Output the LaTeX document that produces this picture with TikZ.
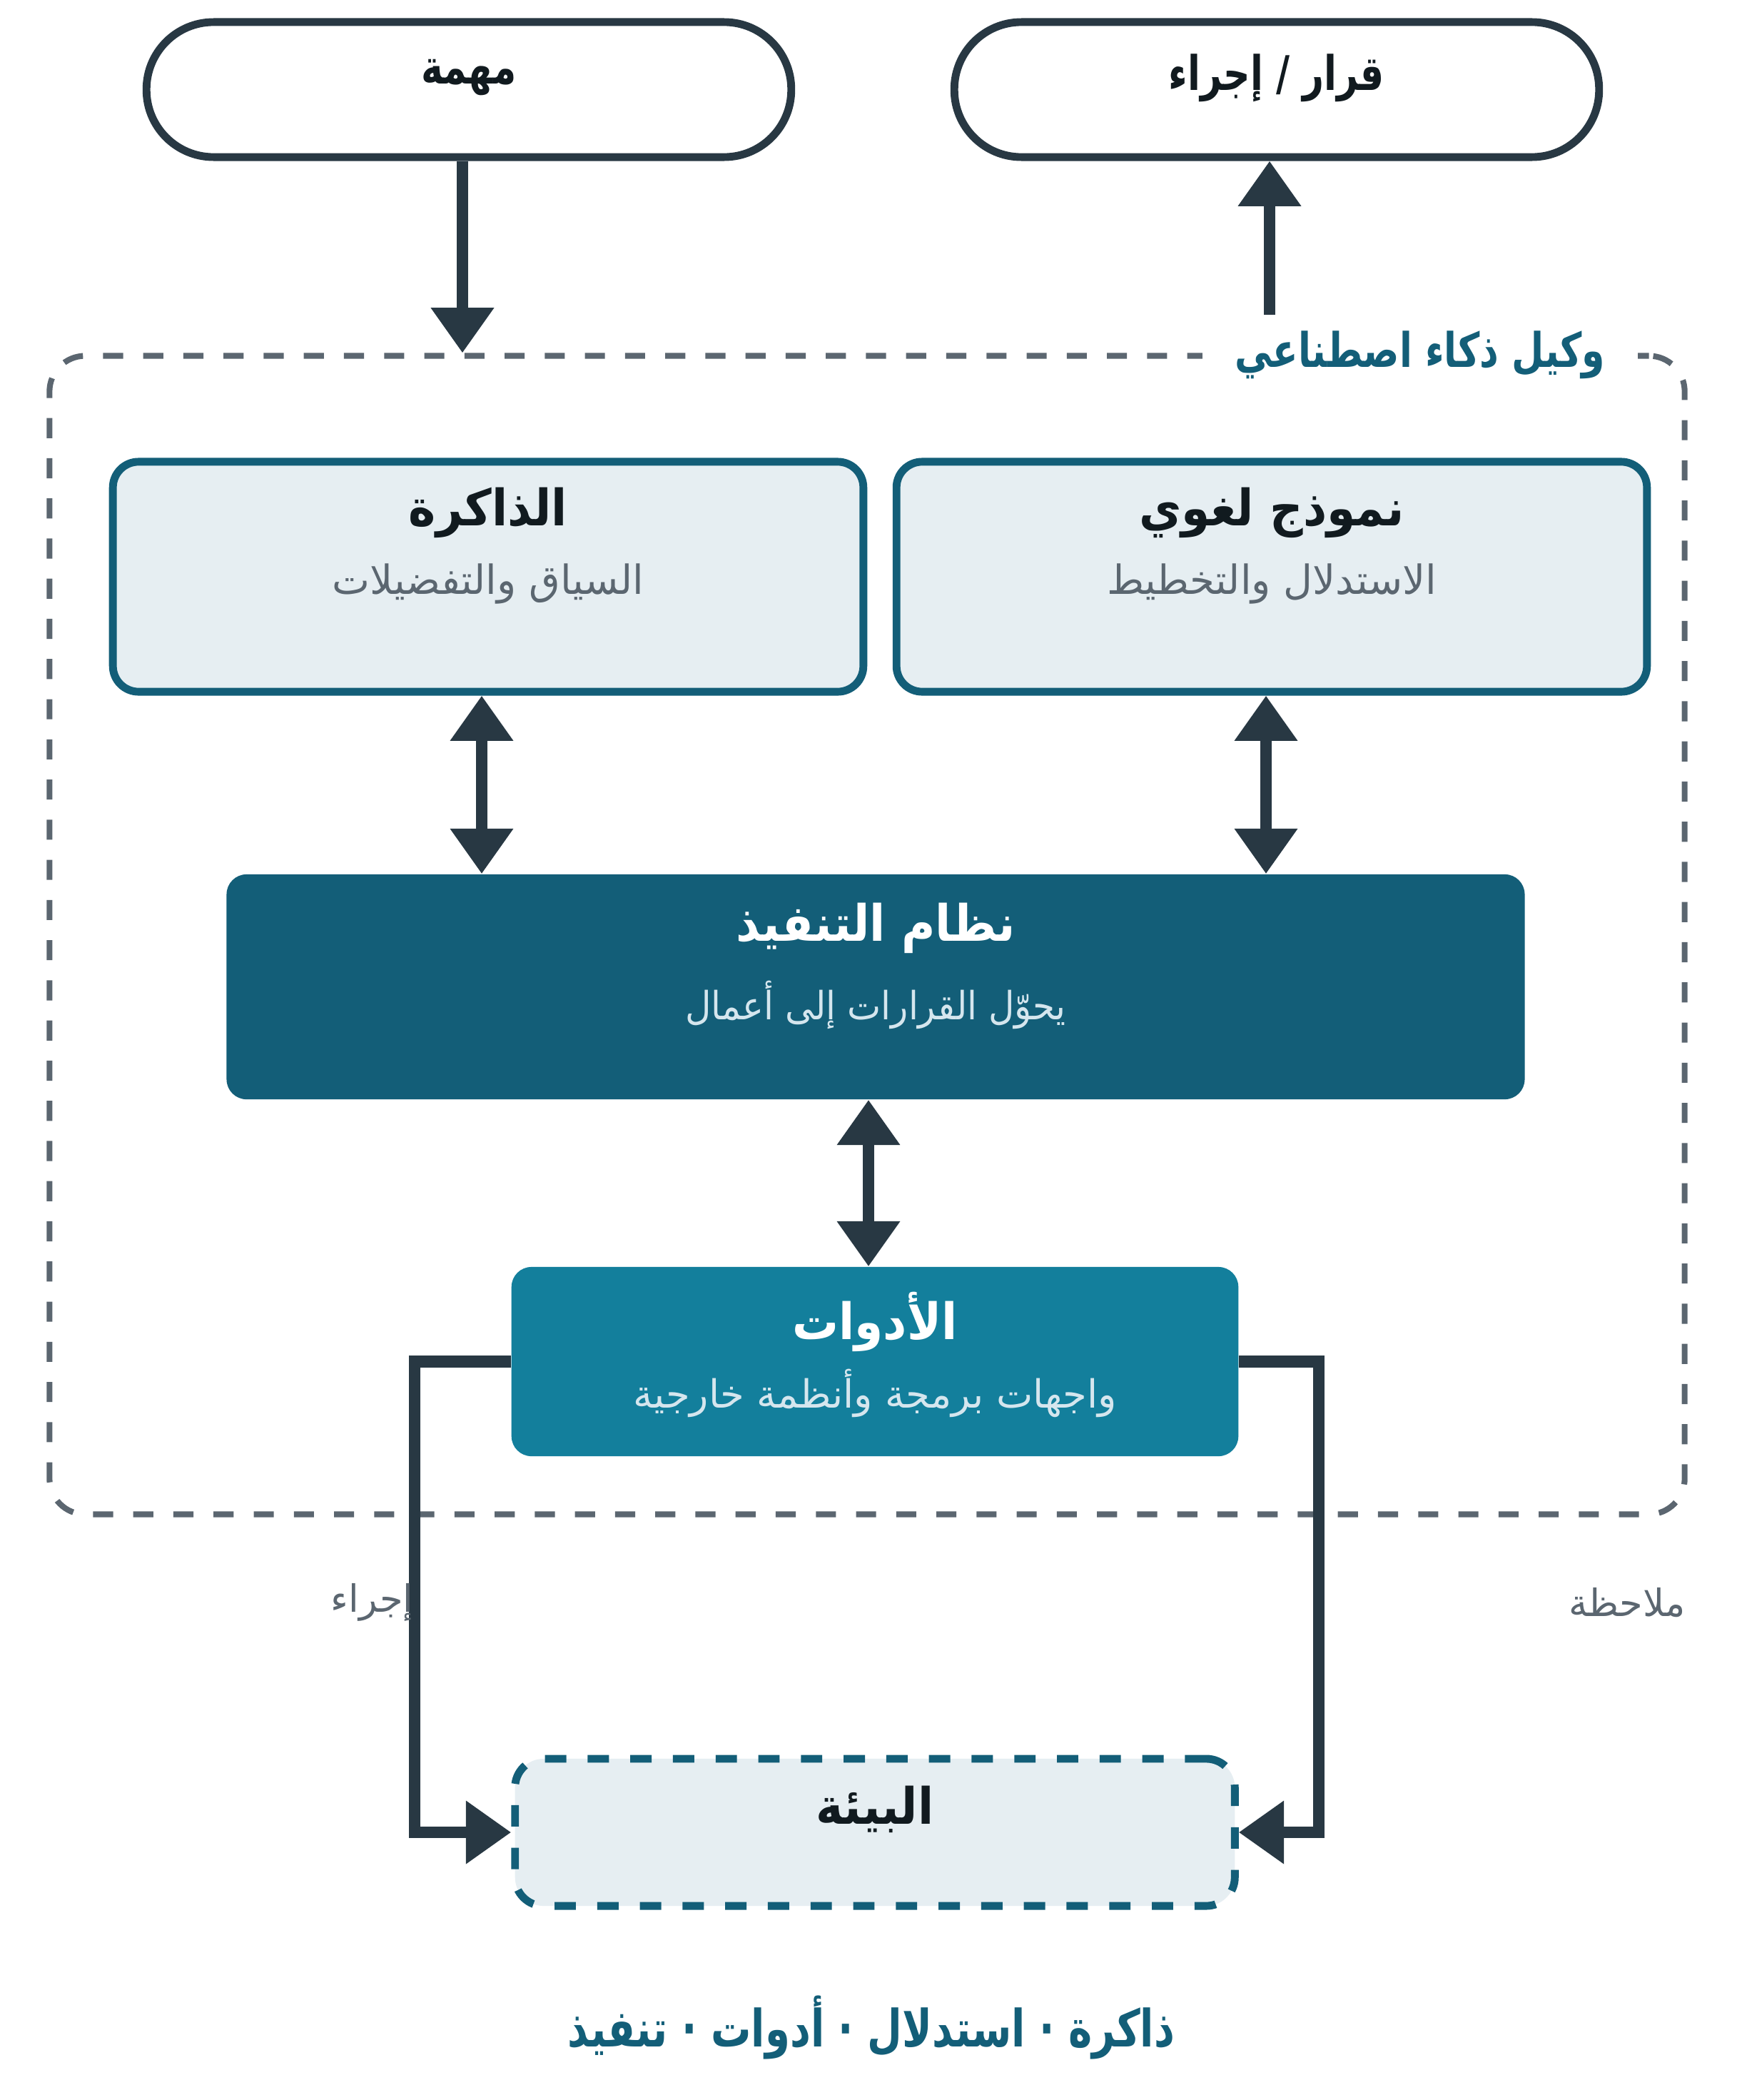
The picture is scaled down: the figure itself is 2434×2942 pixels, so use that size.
\documentclass[tikz,border=0pt]{standalone}
\usepackage{fontspec}
\usepackage{tikz}
\usetikzlibrary{positioning,arrows.meta}
\newfontfamily\arabicfont[Script=Arabic]{DejaVu Sans}
\newfontfamily\arabicsnug[Script=Arabic,FakeStretch=0.92]{DejaVu Sans}
\newfontfamily\arabictight[Script=Arabic,FakeStretch=0.78]{DejaVu Sans}
\TeXXeTstate=1
\newcommand{\artxt}[1]{\beginR #1\endR}
\definecolor{inkdark}{HTML}{283843}
\definecolor{framegray}{HTML}{5B6670}
\definecolor{tealdark}{HTML}{135E78}
\definecolor{tealmid}{HTML}{137F9C}
\definecolor{mist}{HTML}{E6EEF2}
\definecolor{titleink}{HTML}{111A1F}
\definecolor{paleink}{HTML}{D5E6EE}
\tikzset{
pillbox/.style={
  draw=inkdark,
  line width=3.1pt,
  fill=white,
  rounded corners=0.94cm,
  minimum width=9.03cm,
  minimum height=1.89cm
  },
softbox/.style={
  draw=tealdark,
  line width=3.1pt,
  fill=mist,
  rounded corners=0.36cm,
  minimum width=10.51cm,
  minimum height=3.22cm
  },
solidbox/.style={
  fill=#1,
  rounded corners=0.28cm
  },
envbox/.style={
  draw=tealdark,
  line width=3.1pt,
  dash pattern=on 8.5pt off 8.5pt,
  fill=mist,
  rounded corners=0.4cm,
  minimum width=10.08cm,
  minimum height=2.06cm
  },
agentframe/.style={
  draw=framegray,
  line width=2.3pt,
  dash pattern=on 8pt off 8pt,
  rounded corners=0.5cm,
  minimum width=22.9cm,
  minimum height=16.22cm
  },
pilltext/.style={font=\arabictight\bfseries\fontsize{19}{23}\selectfont, text=titleink},
boxtitle/.style={font=\arabicsnug\bfseries\fontsize{20}{24}\selectfont, text=titleink},
boxsub/.style={font=\arabicfont\fontsize{16}{20}\selectfont, text=framegray},
edgelabel/.style={font=\arabicfont\fontsize{15}{18}\selectfont, text=framegray},
flow/.style={draw=inkdark, line width=4.8pt}
}
\begin{document}
\begin{tikzpicture}[x=0.01cm,y=-0.01cm,>={Triangle[length=18pt,width=24pt]}]
  \useasboundingbox[fill=white] (0,0) rectangle (2434,2942);
  % outer agent frame
  \node[agentframe] (agent) at (1215,1310) {};
  \node[fill=white,inner xsep=0.46cm,font=\arabictight\bfseries\fontsize{19}{23}\selectfont,text=tealdark] (agentlbl) at (1990,497) {\artxt{وكيل ذكاء اصطناعي}};
  % input / output
  \node[pillbox] (task) at (657,125.5) {};
  \node[pilltext] (taskt) at (657,109) {\artxt{مهمة}};
  \node[pillbox] (decision) at (1789,125.5) {};
  \node[pilltext] (decisiont) at (1789,109) {\artxt{قرار / إجراء}};
  \coordinate (outfoot) at (1779,441);
  \draw[flow,->] ([xshift=-0.09cm]task.south) -- ([xshift=-0.09cm]task.south |- agent.north);
  \draw[flow,->] (outfoot) -- (outfoot |- decision.south);
  % memory and model
  \node[softbox] (mem) at (684,808) {};
  \node[boxtitle] (memt) at (684,718) {\artxt{الذاكرة}};
  \node[boxsub] (mems) at (684,818) {\artxt{السياق والتفضيلات}};
  \node[softbox] (llm) at (1782,808) {};
  \node[boxtitle] (llmt) at (1782,718) {\artxt{نموذج لغوي}};
  \node[boxsub] (llms) at (1782,818) {\artxt{الاستدلال والتخطيط}};
  % execution
  \node[solidbox=tealdark,minimum width=18.18cm,minimum height=3.15cm] (exec) at (1227,1382.5) {};
  \node[boxtitle,text=white] (exect) at (1227,1300) {\artxt{نظام التنفيذ}};
  \node[boxsub,font=\arabicsnug\fontsize{15.5}{19}\selectfont,text=paleink] (execs) at (1227,1408) {\artxt{يحوّل القرارات إلى أعمال}};
  \draw[flow,<->] ([xshift=-0.09cm]mem.south) -- ([xshift=-0.09cm]mem.south |- exec.north);
  \draw[flow,<->] ([xshift=-0.08cm]llm.south) -- ([xshift=-0.08cm]llm.south |- exec.north);
  % tools
  \node[solidbox=tealmid,minimum width=10.18cm,minimum height=2.65cm] (tools) at (1226,1907.5) {};
  \node[boxtitle,text=white] (toolst) at (1226,1852) {\artxt{الأدوات}};
  \node[boxsub,font=\arabicfont\fontsize{15.5}{19}\selectfont,text=paleink] (toolss) at (1226,1952) {\artxt{واجهات برمجة وأنظمة خارجية}};
  \draw[flow,<->] ([xshift=-0.1cm]exec.south) -- ([xshift=-0.1cm]exec.south |- tools.north);
  % environment
  \node[envbox] (env) at (1226,2567) {};
  \node[boxtitle] (envt) at (1226,2535) {\artxt{البيئة}};
  \draw[flow,->] (tools.west) -- ++(-135,0) |- (env.west);
  \draw[flow,->] (tools.east) -- ++(112,0) |- (env.east);
  \node[edgelabel,anchor=east] (actlbl) at (592,2245) {\artxt{إجراء}};
  \node[edgelabel] (obslbl) at (2280,2245) {\artxt{ملاحظة}};
  % caption
  \node[font=\arabictight\bfseries\fontsize{20.5}{24}\selectfont,text=tealdark] (caption) at (1221,2840) {\artxt{ذاكرة · استدلال · أدوات · تنفيذ}};
\end{tikzpicture}
\end{document}
